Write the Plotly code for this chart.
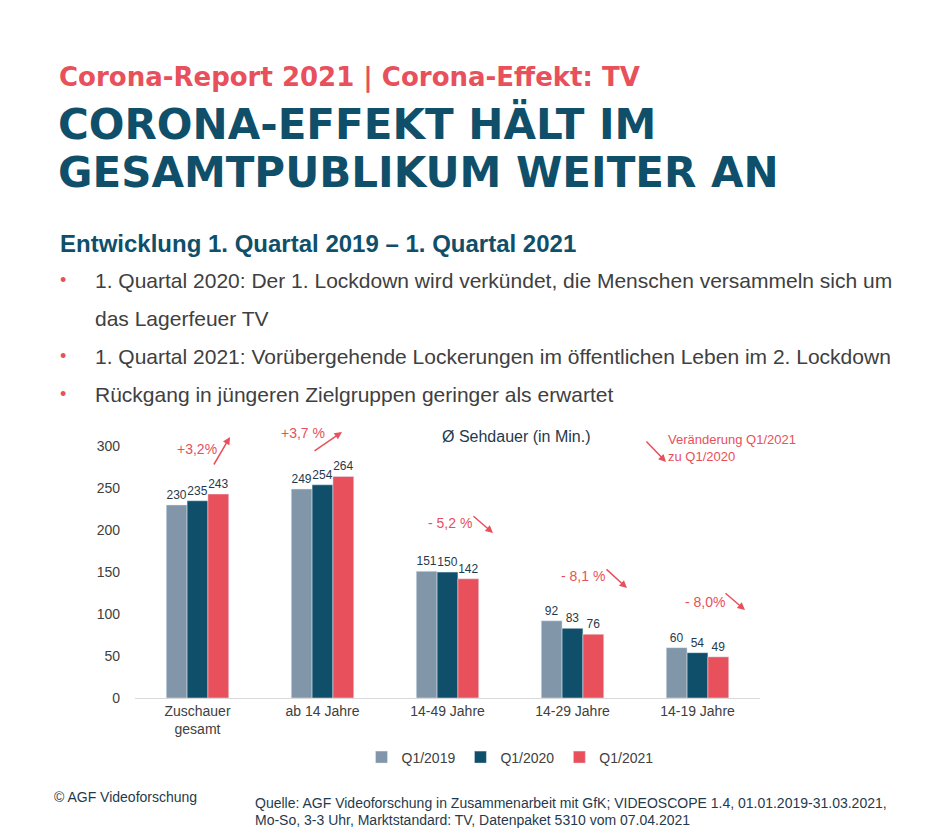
import plotly.graph_objects as go

categories = ["Zuschauer<br>gesamt", "ab 14 Jahre", "14-49 Jahre", "14-29 Jahre", "14-19 Jahre"]
q1_2019 = [230, 249, 151, 92, 60]
q1_2020 = [235, 254, 150, 83, 54]
q1_2021 = [243, 264, 142, 76, 49]
changes = ["+3,2%", "+3,7 %", "- 5,2 %", "- 8,1 %", "- 8,0%"]

OFF = 8  # page body margin
W, H = 947 - OFF, 830 - OFF
L, R, T, B = 135, 760, 442, 698

RED = "#e8505b"
TEAL = "#0f4f6a"
GRAY = "#8196a8"
TXT = "#404040"


def px(x, y):
    return (x - L) / (R - L), (B - y) / (B - T)


fig = go.Figure()
for name, vals, col in [("Q1/2019", q1_2019, GRAY), ("Q1/2020", q1_2020, TEAL), ("Q1/2021", q1_2021, RED)]:
    fig.add_trace(go.Bar(x=categories, y=vals, name=name, marker_color=col,
                         text=vals, textposition="outside", cliponaxis=False,
                         textfont=dict(size=12, color="#1f3a4d")))

ann = []


def text(x, y, s, size, color, anchor="left", family="Liberation Sans"):
    xp, yp = px(x, y)
    ann.append(dict(x=xp, y=yp, xref="paper", yref="paper", text=s, showarrow=False,
                    xanchor=anchor, yanchor="middle", align="left",
                    font=dict(size=size, color=color, family=family)))


text(57, 77, "<b>Corona-Report 2021 | Corona-Effekt: TV</b>", 26, RED, family="DejaVu Sans")
text(56, 124, "<b>CORONA-EFFEKT HÄLT IM</b>", 42, TEAL, family="DejaVu Sans")
text(56, 172, "<b>GESAMTPUBLIKUM WEITER AN</b>", 42, TEAL, family="DejaVu Sans")
text(58, 243, "<b>Entwicklung 1. Quartal 2019 – 1. Quartal 2021</b>", 24, TEAL)
bullets = [(280, "1. Quartal 2020: Der 1. Lockdown wird verkündet, die Menschen versammeln sich um", True),
           (318, "das Lagerfeuer TV", False),
           (356, "1. Quartal 2021: Vorübergehende Lockerungen im öffentlichen Leben im 2. Lockdown", True),
           (394, "Rückgang in jüngeren Zielgruppen geringer als erwartet", True)]
for y, s, dot in bullets:
    if dot:
        text(58, y, "•", 18, RED)
    text(93, y, s, 21, TXT)
text(440, 436, "Ø Sehdauer (in Min.)", 16, "#1f3a4d")
text(666, 448, "Veränderung Q1/2021<br>zu Q1/2020", 13, RED)
text(52, 797, "© AGF Videoforschung", 14, "#1f3a4d")
text(253, 803, "Quelle: AGF Videoforschung in Zusammenarbeit mit GfK; VIDEOSCOPE 1.4, 01.01.2019-31.03.2021,", 14, "#1f3a4d")
text(253, 820, "Mo-So, 3-3 Uhr, Marktstandard: TV, Datenpaket 5310 vom 07.04.2021", 14, "#1f3a4d")

# change labels with arrows
chg_pos = [(197, 449), (303, 433), (450, 523), (583, 576), (705, 602)]
for (x, y), s in zip(chg_pos, changes):
    text(x, y, s, 14, RED, anchor="center")

arrows = [((230, 437), (213, 466)), ((342, 432), (313, 452)), ((493, 533), (472, 515)),
          ((627, 588), (605, 568)), ((745, 610), (724, 592)), ((666, 462), (645, 440))]
for (hx, hy), (tx, ty) in arrows:
    xp, yp = px(hx, hy)
    ann.append(dict(x=xp, y=yp, xref="paper", yref="paper", ax=tx - hx, ay=ty - hy,
                    showarrow=True, arrowhead=2, arrowsize=1, arrowwidth=1.5,
                    arrowcolor=RED, text=""))

fig.update_layout(
    width=W, height=H, autosize=False,
    margin=dict(l=L - OFF, r=W - (R - OFF), t=T - OFF, b=H - (B - OFF), pad=0),
    paper_bgcolor="white", plot_bgcolor="white",
    font=dict(family="Liberation Sans", color=TXT),
    barmode="group", bargap=0.5, bargroupgap=0,
    annotations=ann,
    xaxis=dict(showline=True, linecolor="#d9d9d9", tickfont=dict(size=14, color=TXT),
               ticks="", fixedrange=True),
    yaxis=dict(range=[0, 305], tickvals=[0, 50, 100, 150, 200, 250, 300], showgrid=False,
               zeroline=False, tickfont=dict(size=14, color=TXT), ticklabelstandoff=14),
    legend=dict(orientation="h", x=0.6, xanchor="center", y=-0.17, yanchor="top",
                font=dict(size=14, color=TXT), itemwidth=30),
    showlegend=True,
)

fig.write_html("out.html")
